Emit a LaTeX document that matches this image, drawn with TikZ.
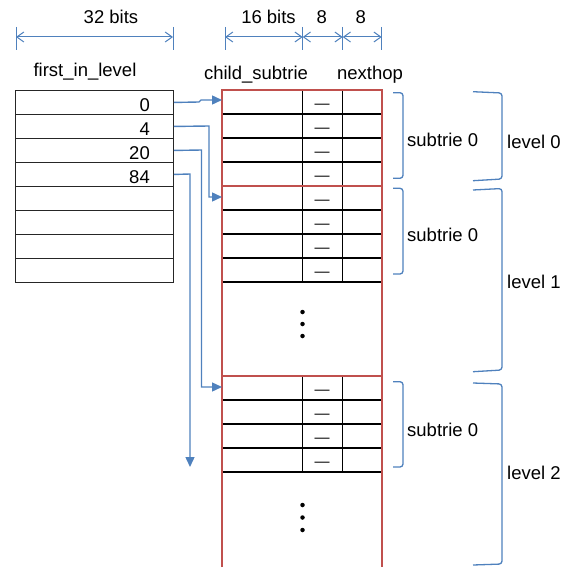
\documentclass[tikz,border=0pt]{standalone}
\usepackage{fontspec}
\setmainfont{Liberation Sans}
\usetikzlibrary{arrows.meta}
\definecolor{lblue}{HTML}{4F81BD}
\definecolor{lred}{HTML}{C0504D}
\begin{document}
\begin{tikzpicture}[x=1pt,y=-1pt,
  font=\fontsize{18.5}{22}\selectfont,
  every node/.style={inner sep=0pt},
  cell/.style={draw=black!85, line width=0.9pt, minimum width=158pt, minimum height=24pt, inner sep=0pt, anchor=north west},
  conn/.style={draw=lblue, line width=1.4pt, -{Triangle[length=10pt,width=9pt]}},
  dimline/.style={lblue, line width=1pt, {Straight Barb[length=7pt,width=10pt]}-{Straight Barb[length=7pt,width=10pt]}},
  tickline/.style={lblue, line width=0.9pt},
  bracket/.style={lblue, line width=1.3pt, rounded corners=3pt},
  gridline/.style={black, line width=1.5pt},
  frameline/.style={lred, line width=2.6pt},
  dashmark/.style={inner sep=0pt, anchor=north, font=\fontsize{15}{18}\selectfont},
  ddot/.style={circle, fill=black, minimum size=4.5pt, inner sep=0pt}
]
\useasboundingbox (0,0) rectangle (569,567);

% ---- dimension lines ----
\foreach \x/\n in {16/a,173/b,225/c,302.7/d,342.7/e,381.7/f}
  \draw[tickline] (\x,27) coordinate (t\n) -- (\x,50);
\draw[dimline] ([yshift=-10pt]ta) -- ([yshift=-10pt]tb);
\draw[dimline] ([yshift=-10pt]tc) -- ([yshift=-10pt]td);
\draw[dimline] ([yshift=-10pt]td) -- ([yshift=-10pt]te);
\draw[dimline] ([yshift=-10pt]te) -- ([yshift=-10pt]tf);
\node (l32) at (111,17) {32 bits};
\node (l16) at (268.5,17) {16 bits};
\node (l8a) at (321.7,17) {8};
\node (l8b) at (360.7,17) {8};

% ---- headers ----
\node (hfirst) at (85,72) {first\_in\_level};
\node (hchild) at (256,75) {child\_subtrie};
\node (hnext) at (370,75) {nexthop};

% ---- left table ----
\foreach \i in {0,...,7}
  \node[cell] (L\i) at (15,{90+24*\i}) {};
\node[anchor=base east] (n0) at (150,111) {0};
\node[anchor=base east] (n1) at (150,135) {4};
\node[anchor=base east] (n2) at (150,159) {20};
\node[anchor=base east] (n3) at (150,183) {84};

% ---- right table ----
\foreach \y in {114,138,162,210,234,258,282,400,424,448,472}
  \draw[gridline] (222,\y) -- (382,\y);
\foreach \x in {302.7,342.7} {
  \draw[gridline] (\x,90) -- (\x,282);
  \draw[gridline] (\x,376) -- (\x,472);
}
\foreach \y in {90,114,138,162,186,210,234,258,376,400,424,448}
  \node[dashmark] at (322,{\y+14}) {—};
\foreach \y [count=\k] in {312,324,336,505,517.5,530}
  \node[ddot] (dot\k) at (302.5,\y) {};
\draw[frameline] (222,567) -- (222,90) -- (382,90) -- (382,567);
\draw[frameline] (222,186) -- (382,186);
\draw[frameline] (222,376) -- (382,376);

% ---- targets ----
\coordinate (T0) at (222,100);
\coordinate (T1) at (222,197);
\coordinate (T2) at (222,387);
\coordinate (E3) at (190,467);

% ---- connectors ----
\draw[conn] (L0.east) -- (199,102) -- (201,100) -- (T0);
\draw[conn] (L1.east) -- (209,126) |- (T1);
\draw[conn] (L2.east) -- (201.5,150) |- (T2);
\draw[conn] (L3.east) -- (190,174) -- (E3);

% ---- brackets ----
\draw[bracket] (393,92.7) -- (403,92.7) -- (403,178.3) -- (393,178.3);
\draw[bracket] (393,188.3) -- (403,188.3) -- (403,274) -- (393,274);
\draw[bracket] (393,381.7) -- (403,381.7) -- (403,467) -- (393,467);
\draw[bracket] (473,91.7) -- (502,93) -- (502,179) -- (473,180.7);
\draw[bracket] (473,190) -- (502,188.5) -- (502,370) -- (473,371.7);
\draw[bracket] (473,383) -- (502,384) -- (502,564) -- (473,565);

\node[anchor=west] (s0) at (407,140) {subtrie 0};
\node[anchor=west] (s1) at (407,235) {subtrie 0};
\node[anchor=west] (s2) at (407,429.5) {subtrie 0};
\node[anchor=west] (v0) at (507,141.5) {level 0};
\node[anchor=west] (v1) at (507,282) {level 1};
\node[anchor=west] (v2) at (507,473) {level 2};
\end{tikzpicture}
\end{document}
